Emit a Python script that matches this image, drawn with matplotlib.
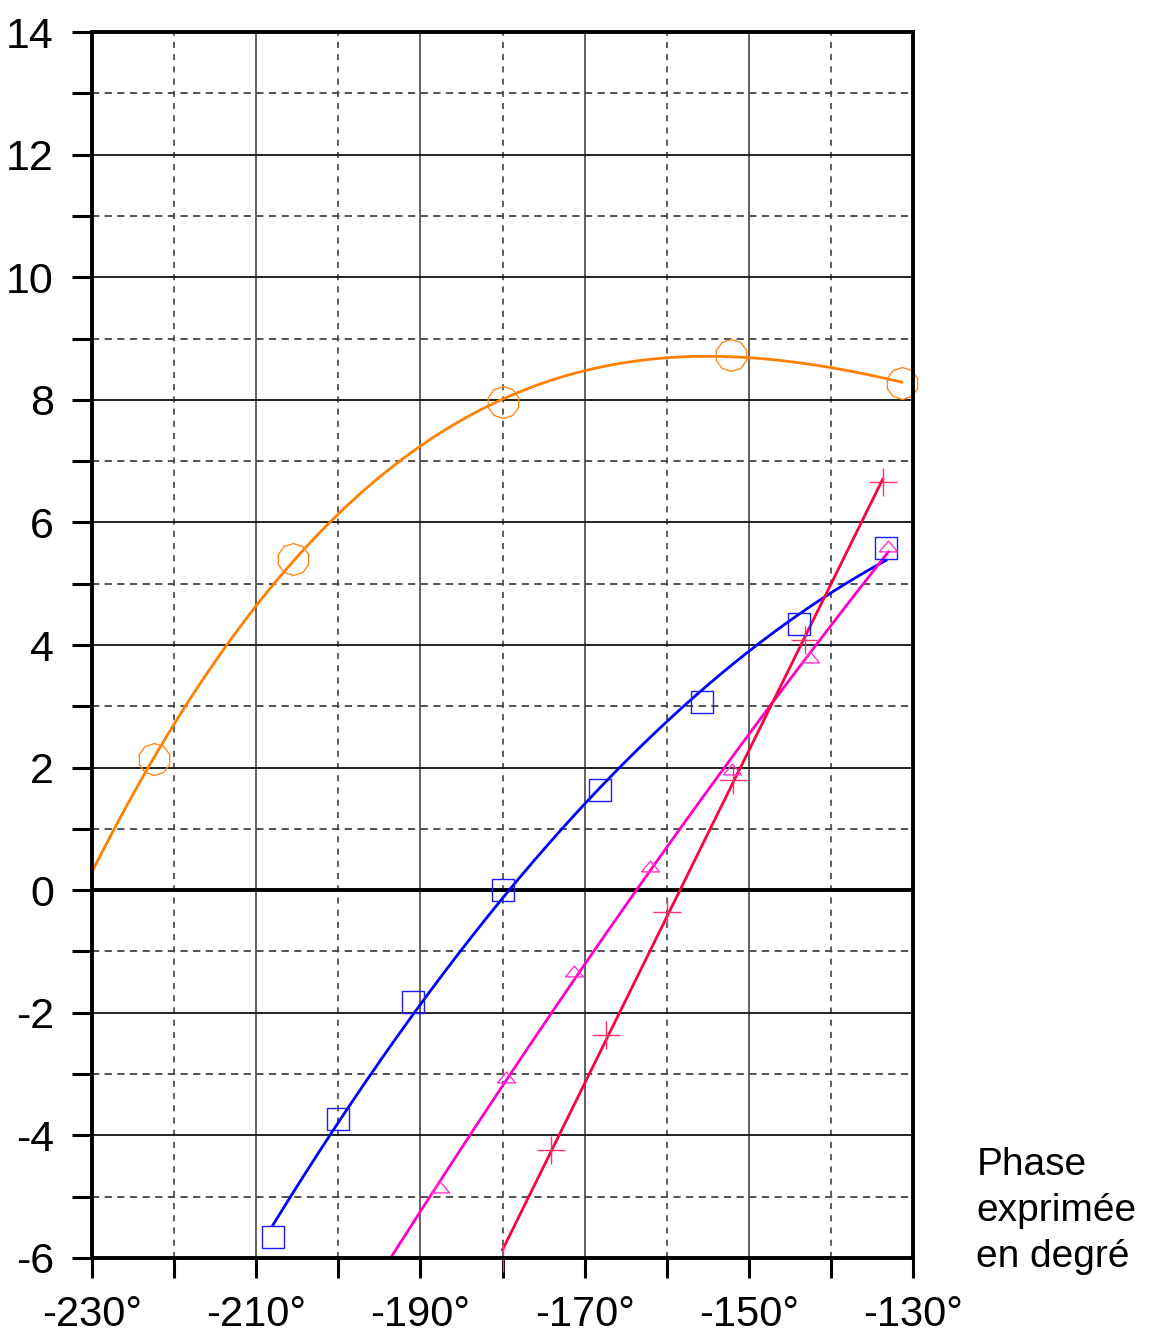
import numpy as np
import matplotlib
matplotlib.use("Agg")
from matplotlib import pyplot as plt
from matplotlib.ticker import MultipleLocator, FixedLocator

# values (phase in degrees, gain)
orange_x = [-222.5, -205.5, -180.0, -152.2, -131.4]
orange_y = [2.14, 5.40, 7.97, 8.73, 8.28]

blue_x = [-208.0, -200.0, -190.9, -180.0, -168.1, -155.7, -143.9, -133.3]
blue_y = [-5.66, -3.73, -1.82, 0.0, 1.63, 3.07, 4.34, 5.58]

magenta_x = [-187.6, -179.6, -171.3, -162.0, -152.0, -142.6, -133.0]
magenta_y = [-4.85, -3.05, -1.32, 0.39, 1.98, 3.80, 5.62]

red_x = [-180.0, -174.1, -167.4, -160.0, -151.9, -143.2, -133.7]
red_y = [-6.0, -4.24, -2.36, -0.36, 1.80, 4.08, 6.66]

x_labels = ["-230°", "-210°", "-190°", "-170°", "-150°", "-130°"]

plt.rcParams['font.family'] = ['Liberation Sans', 'DejaVu Sans']
plt.rcParams['axes.unicode_minus'] = False

fig = plt.figure(figsize=(11.5, 13.35), dpi=100)
ax = fig.add_axes([0.08, 0.0577, 0.714, 0.9183])


def fit_line(xs, ys, deg, x0, x1, color):
    c = np.polyfit(xs, ys, deg)
    xx = np.linspace(x0, x1, 200)
    ax.plot(xx, np.polyval(c, xx), color=color, lw=2, zorder=4)


tri = [(-1, -0.6), (1, -0.6), (0, 0.6), (-1, -0.6)]

fit_line(orange_x, orange_y, 3, -230, orange_x[-1], '#ff8000')
ax.plot(orange_x, orange_y, ls='none', marker=(10, 0, 0), ms=23, mfc='none',
        mec='#ff8a1a', mew=1, zorder=5, clip_on=False)

fit_line(blue_x, blue_y, 2, blue_x[0], blue_x[-1], '#0000ff')
ax.plot(blue_x, blue_y, ls='none', marker='s', ms=16, mfc='none',
        mec='#1a1aff', mew=1, zorder=5)

fit_line(magenta_x, magenta_y, 2, -196, magenta_x[-1], '#ff00c8')
ax.plot(magenta_x, magenta_y, ls='none', marker=tri, ms=13, mfc='none',
        mec='#ff33cc', mew=1, zorder=5)

fit_line(red_x, red_y, 1, red_x[0], red_x[-1], '#ff0040')
ax.plot(red_x, red_y, ls='none', marker='+', ms=20, mec='#ff3366', mew=1,
        zorder=5, clip_on=False)

ax.set_xlim(-230, -130)
ax.set_ylim(-6, 14)

# grid: solid on even y / -210,-190.. ; dashed on odd y / -220,-200..
for v in range(-210, -130, 20):
    ax.axvline(v, color='#555555', lw=1.3, zorder=1)
for v in range(-220, -130, 20):
    ax.axvline(v, color='#333333', lw=1.1, ls=(0, (4, 4)), zorder=1)
for v in range(-4, 14, 2):
    ax.axhline(v, color='#111111', lw=1.3, zorder=1)
for v in range(-5, 14, 2):
    ax.axhline(v, color='#444444', lw=1.3, ls=(0, (4, 3)), zorder=1)
ax.axhline(0, color='black', lw=2.8, zorder=2)

ax.xaxis.set_major_locator(FixedLocator(range(-230, -129, 20)))
ax.xaxis.set_minor_locator(MultipleLocator(10))
ax.set_xticklabels(x_labels)
ax.yaxis.set_major_locator(MultipleLocator(2))
ax.yaxis.set_minor_locator(MultipleLocator(1))

ax.tick_params(which='both', direction='out', length=14.4, width=2.2, colors='black')
ax.tick_params(axis='x', labelsize=30, pad=12)
ax.tick_params(axis='y', labelsize=31, pad=13)

for s in ax.spines.values():
    s.set_linewidth(2.8)
    s.set_zorder(6)

fig.text(0.849, 0.045, "Phase\nexprimée\nen degré", fontsize=28,
         ha='left', va='bottom', linespacing=1.35)

fig.savefig("out.png", dpi=100)
